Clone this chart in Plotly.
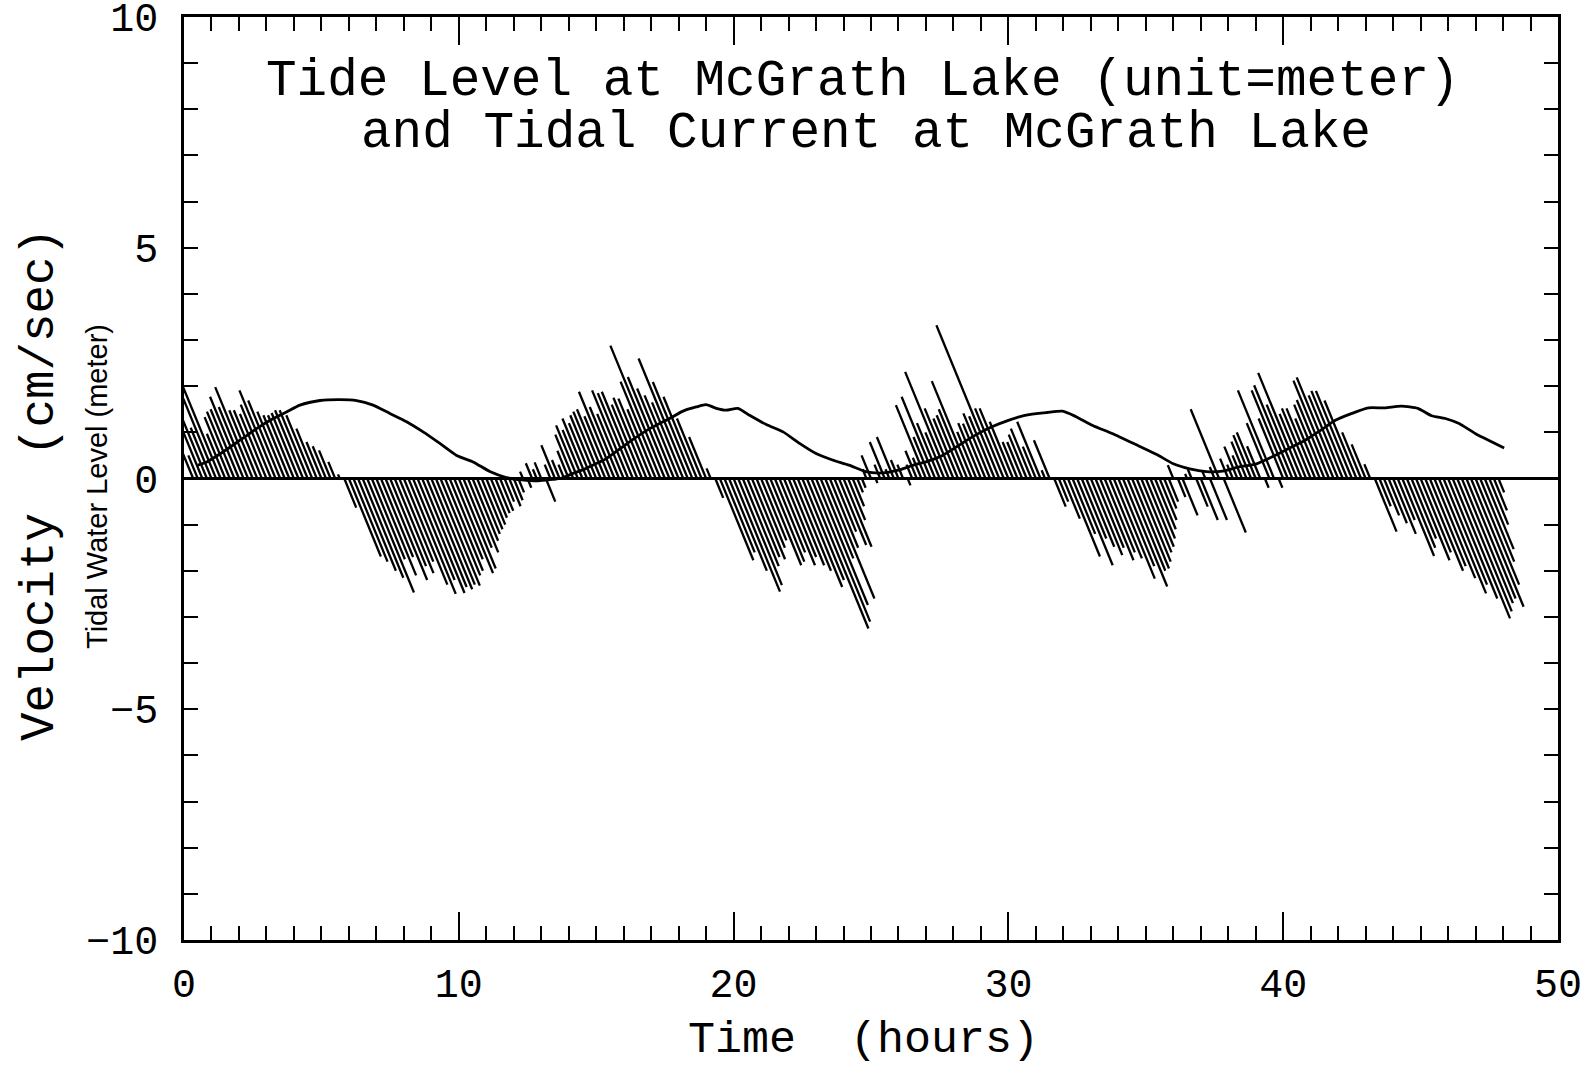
import math
import plotly.graph_objects as go

# ---------------- data ----------------
# Velocity (cm/s) along the channel axis, vertical (north) component,
# sampled every 10 minutes starting at t = 0.33 h
flood_1 = [1.08, 0.5, 2.92, 1.3, 1.1, 1.73, 2.38, 0.97, 1.33, 1.45, 1.5, 1.77, 1.55,
           1.98, 1.48, 1.48, 1.4, 1.6, 1.91, 1.69, 1.45, 1.37, 1.37, 1.42, 1.48, 1.48,
           1.37, 1.08, 0.79, 0.7, 0.61, 0.36, 0.09]
ebb_1 = [-0.63, -1.69, -1.8, -2.0, -2.15, -2.47, -1.75, -2.1, -1.7, -2.2, -1.9, -2.05,
         -1.8, -2.3, -2.5, -2.2, -2.48, -2.35, -2.4, -2.3, -2.32, -2.1, -2.0, -1.75,
         -2.05, -1.95, -1.5, -1.6, -1.35, -1.2, -1.1, -1.0, -0.85, -0.75, -0.7, -0.5]
slack_1 = [-0.6, -0.47, -0.3, 0.15, -0.2, 0.33, 0.2, 0.35, -0.5, 0.3, 0.72]
flood_2 = [0.4, 0.3, 0.6, 0.95, 1.15, 1.05, 1.3, 1.2, 1.37, 1.45, 1.5, 1.35, 1.88, 1.55,
           1.4, 1.91, 1.85, 1.88, 1.6, 1.75, 1.73, 1.5, 2.1, 2.88, 2.2, 1.95, 1.8, 1.65,
           2.6, 2.09, 1.77, 1.3, 0.9, 0.22]
ebb_2 = [-0.42, -1.77, -1.6, -2.0, -2.45, -2.31, -1.9, -1.7, -1.75, -1.5, -1.34, -1.88,
         -1.8, -1.6, -1.88, -1.7, -1.88, -2.0, -2.35, -2.2, -3.25, -3.1, -2.74, -1.73,
         -2.6, -1.5, -1.15, -1.44, -1.48, -0.9, -0.6, -0.3]
slack_2 = [-0.2, 0.2, 0.5, -0.1, 0.3, 0.79, 0.2, 0.9, 0.4, 0.3, -0.15]
flood_3 = [0.3, 0.6, 0.45, 1.59, 0.9, 1.77, 1.2, 1.0, 2.31, 1.52, 1.3, 1.37, 1.5, 2.11,
           1.01, 1.2, 1.19, 1.41, 1.35, 3.32, 1.52, 1.52, 1.23, 0.79, 0.79, 0.95, 1.08,
           0.69, 1.23, 0.18, 0.83]
ebb_3 = [-0.61, -0.5, -0.87, -1.69, -1.2, -1.88, -1.3, -1.48, -1.66, -1.5, -1.77, -1.6,
         -1.73, -2.17, -1.9, -2.34, -2.0, -1.95, -1.8, -1.6, -1.48, -1.3, -1.1, -0.9,
         -0.65, -0.5]
slack_3 = [0.29, -0.4, -0.8, 0.1, 0.2, -0.61, -0.9, 0.15, -0.9, 0.25, 1.5, -1.17, 0.43,
           0.3, 0.69]
flood_4 = [0.5, 0.8, 0.94, 1.0, 0.7, -0.2, 1.2, 1.91, -0.2, 1.3, 1.91, 2.02, 1.6, 2.29,
           1.4, 1.52, 1.52, 1.3, 1.6, 1.7, 2.12, 2.19, 1.8, 1.9, 1.9, 1.69, 1.0, 0.74, 0.31]
ebb_4 = [-1.15, -0.6, -0.8, -0.97, -1.2, -0.9, -1.68, -1.5, -1.3, -1.77, -1.6, -2.0, -1.9,
         -2.16, -2.49, -2.3, -2.6, -3.03, -2.88, -2.7, -2.6, -2.78, -2.3, -1.8, -1.53,
         -1.0, -0.69, -0.3]

start_hour = 1 / 3          # first current sample
step_hour = 1 / 6           # 10-minute sampling
channel_axis_deg = 22.3     # current direction, degrees west of north

# Tide level (meter)
tide_hour = [0.5, 0.83, 1.43, 2.04, 2.64, 3.25, 3.73, 4.22, 4.95, 5.67, 6.28, 6.88, 7.49,
             8.1, 8.7, 9.31, 9.92, 10.52, 11.13, 11.73, 12.3, 12.9, 13.4, 13.7, 14.16,
             14.64, 15.13, 15.37, 16.2, 16.95, 17.67, 18.16, 18.64, 19.0, 19.37, 19.73,
             20.16, 20.58, 21.19, 21.8, 22.4, 23.0, 23.6, 24.2, 24.8, 25.4, 26.0, 26.6,
             27.0, 27.6, 28.2, 28.8, 29.4, 30.0, 30.6, 31.4, 31.97, 32.46, 33.07, 33.8,
             34.76, 35.4, 36.0, 36.6, 37.2, 37.8, 38.4, 39.0, 39.6, 40.2, 40.8, 41.4,
             41.9, 42.5, 43.1, 43.7, 44.3, 44.9, 45.4, 45.9, 46.4, 47.0, 47.6, 48.04]
tide_level = [0.29, 0.36, 0.58, 0.83, 1.08, 1.3, 1.44, 1.59, 1.69, 1.71, 1.69, 1.59, 1.41,
              1.23, 1.01, 0.76, 0.5, 0.36, 0.15, 0.02, -0.03, -0.05, -0.02, 0.0, 0.11,
              0.22, 0.36, 0.43, 0.79, 1.08, 1.3, 1.46, 1.55, 1.6, 1.52, 1.48, 1.52, 1.37,
              1.17, 1.01, 0.76, 0.54, 0.4, 0.29, 0.15, 0.12, 0.18, 0.3, 0.36, 0.5, 0.72,
              0.94, 1.12, 1.26, 1.37, 1.43, 1.46, 1.34, 1.15, 0.97, 0.7, 0.52, 0.32, 0.21,
              0.15, 0.16, 0.25, 0.31, 0.47, 0.65, 0.83, 1.06, 1.26, 1.41, 1.53, 1.53,
              1.57, 1.52, 1.36, 1.3, 1.19, 0.97, 0.79, 0.66]

x_tick_vals = [0, 10, 20, 30, 40, 50]
y_tick_vals = [-10, -5, 0, 5, 10]

# ---------------- figure geometry ----------------
W, H = 1583, 1067
ML, MR, MT, MB = 184, 25, 17, 127
X_RANGE = [0, 50]
Y_RANGE = [-10, 10]
px_per_hour = (W - ML - MR) / (X_RANGE[1] - X_RANGE[0])
px_per_cms = (H - MT - MB) / (Y_RANGE[1] - Y_RANGE[0])
hours_per_cms = px_per_cms / px_per_hour   # equal on-screen scale for u and v

v_north = flood_1 + ebb_1 + slack_1 + flood_2 + ebb_2 + slack_2 + flood_3 + ebb_3 + \
    slack_3 + flood_4 + ebb_4
tan_axis = math.tan(math.radians(channel_axis_deg))

stick_x, stick_y = [], []
for i, v in enumerate(v_north):
    t = start_hour + i * step_hour
    u_east = -v * tan_axis
    stick_x += [t, t + u_east * hours_per_cms, None]
    stick_y += [0, v, None]

fig = go.Figure()
fig.add_trace(go.Scatter(x=stick_x, y=stick_y, mode="lines",
                         line=dict(color="black", width=2.3), hoverinfo="skip",
                         showlegend=False))
fig.add_trace(go.Scatter(x=tide_hour, y=tide_level, mode="lines",
                         line=dict(color="black", width=2.8, shape="spline", smoothing=0.6),
                         showlegend=False))

mono = "Liberation Mono, DejaVu Sans Mono, monospace"

fig.update_layout(
    width=W, height=H,
    margin=dict(l=ML, r=MR, t=MT, b=MB, pad=0, autoexpand=False),
    paper_bgcolor="white", plot_bgcolor="white",
    showlegend=False,
    font=dict(family=mono, color="black", size=38),
)
fig.update_xaxes(
    range=X_RANGE, tickvals=x_tick_vals, ticks="inside", ticklen=28, tickwidth=2,
    tickcolor="black", showline=True, linewidth=2.5, linecolor="black",
    mirror="allticks", showgrid=False, zeroline=False, automargin=False,
    tickfont=dict(family=mono, size=40, color="black"), ticklabelstandoff=6,
    ticklabeloverflow="allow",
    minor=dict(dtick=1, ticks="inside", ticklen=14, tickwidth=2, tickcolor="black",
               showgrid=False),
)
fig.update_yaxes(
    range=Y_RANGE, tickvals=y_tick_vals, ticks="inside", ticklen=14, tickwidth=2,
    tickcolor="black", showline=True, linewidth=2.5, linecolor="black",
    mirror="allticks", showgrid=False, zeroline=True, zerolinecolor="black",
    zerolinewidth=2.5, automargin=False,
    tickfont=dict(family=mono, size=40, color="black"), ticklabelstandoff=15,
    ticklabeloverflow="allow",
    minor=dict(dtick=1, ticks="inside", ticklen=14, tickwidth=2, tickcolor="black",
               showgrid=False),
)

def px_x(p):
    return (p - ML) / (W - ML - MR)

def px_y(p):
    return (H - MB - p) / (H - MT - MB)

def label(text, x, y, size, family=mono, angle=0):
    fig.add_annotation(text=text, xref="paper", yref="paper", x=px_x(x), y=px_y(y),
                       xanchor="center", yanchor="middle", textangle=angle,
                       showarrow=False, font=dict(family=family, size=size, color="black"))

label("Tide Level at McGrath Lake (unit=meter)", 863, 81, 51)
label("and Tidal Current at McGrath Lake", 866, 133, 51)
label("Velocity  (cm/sec)", 40, 485, 47.5, angle=-90)
label("Tidal Water Level (meter)", 97, 487, 29,
      family="Liberation Sans Narrow, Liberation Sans, Arial", angle=-90)
label("Time  (hours)", 863, 1040, 45)

fig.write_html("out.html")
